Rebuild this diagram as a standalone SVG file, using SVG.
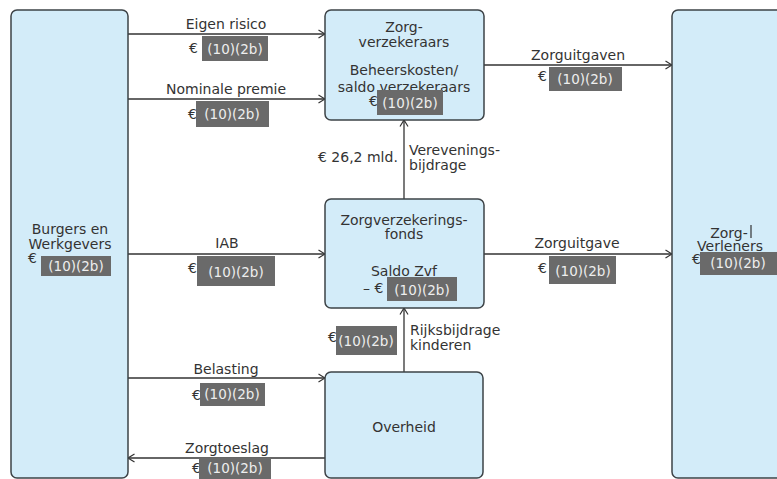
<svg xmlns="http://www.w3.org/2000/svg" width="777" height="479" viewBox="0 0 777 479">
<defs>
<marker id="arr" viewBox="0 0 8 10" refX="7.5" refY="5" markerWidth="8" markerHeight="10" markerUnits="userSpaceOnUse" orient="auto">
<path d="M1,1 L7.5,5 L1,9" fill="none" stroke="#333" stroke-width="1.2"/>
</marker>
</defs>
<style>
.box{fill:#d3ecf9;stroke:#3d4347;stroke-width:1.5}
.t{font-family:"DejaVu Sans","Liberation Sans",sans-serif;font-size:14px;fill:#333}
.m{text-anchor:middle}
.red{fill:#6a6a6a}
.w{font-family:"DejaVu Sans","Liberation Sans",sans-serif;font-size:13.5px;fill:#eeeeee;text-anchor:middle}
.ln{stroke:#333;stroke-width:1.3;fill:none;marker-end:url(#arr)}
</style>
<rect width="777" height="479" fill="#ffffff"/>

<g id="connectors">
<line class="ln" x1="128" y1="34" x2="325" y2="34"/>
<line class="ln" x1="128" y1="99" x2="325" y2="99"/>
<line class="ln" x1="484" y1="65" x2="672" y2="65"/>
<line class="ln" x1="128" y1="254" x2="325" y2="254"/>
<line class="ln" x1="484" y1="254" x2="672" y2="254"/>
<line class="ln" x1="128" y1="378" x2="325" y2="378"/>
<line class="ln" x1="325" y1="458" x2="128" y2="458"/>
<line class="ln" x1="404" y1="199" x2="404" y2="120"/>
<line class="ln" x1="404" y1="372" x2="404" y2="308"/>

<g id="lbl-eigen">
<text class="t m" x="226" y="29">Eigen risico</text>
<text class="t" x="189" y="53">€</text>
<rect class="red" x="202" y="36" width="66" height="25"/>
<text class="w" x="235" y="54">(10)(2b)</text>
</g>
<g id="lbl-nominaal">
<text class="t m" x="226" y="94">Nominale premie</text>
<text class="t" x="188" y="119">€</text>
<rect class="red" x="196" y="101" width="73" height="26"/>
<text class="w" x="232" y="119">(10)(2b)</text>
</g>
<g id="lbl-zorguitgaven">
<text class="t m" x="578" y="60">Zorguitgaven</text>
<text class="t" x="538" y="81">€</text>
<rect class="red" x="549" y="67" width="73" height="24"/>
<text class="w" x="585" y="84">(10)(2b)</text>
</g>
<g id="lbl-vereveningsbijdrage">
<text class="t" x="318" y="162">€ 26,2 mld.</text>
<text class="t" x="409" y="155">Verevenings-</text>
<text class="t" x="409" y="170">bijdrage</text>
</g>
<g id="lbl-iab">
<text class="t m" x="227" y="248">IAB</text>
<text class="t" x="188" y="273">€</text>
<rect class="red" x="197" y="256" width="78" height="30"/>
<text class="w" x="236" y="277">(10)(2b)</text>
</g>
<g id="lbl-zorguitgave">
<text class="t m" x="577" y="248">Zorguitgave</text>
<text class="t" x="538" y="273">€</text>
<rect class="red" x="549" y="256" width="67" height="28"/>
<text class="w" x="583" y="276">(10)(2b)</text>
</g>
<g id="lbl-rijksbijdrage">
<text class="t" x="410" y="335">Rijksbijdrage</text>
<text class="t" x="410" y="350">kinderen</text>
<text class="t" x="328" y="342">€</text>
<rect class="red" x="336" y="326" width="61" height="29"/>
<text class="w" x="366" y="346">(10)(2b)</text>
</g>
<g id="lbl-belasting">
<text class="t m" x="226" y="374">Belasting</text>
<text class="t" x="192" y="400">€</text>
<rect class="red" x="200" y="383" width="65" height="23"/>
<text class="w" x="232" y="399">(10)(2b)</text>
</g>
<g id="lbl-zorgtoeslag">
<text class="t m" x="227" y="453">Zorgtoeslag</text>
<text class="t" x="192" y="473">€</text>
<rect class="red" x="199" y="458" width="72" height="21"/>
<text class="w" x="235" y="473">(10)(2b)</text>
</g>
</g>

<g id="burgers">
<rect class="box" x="11" y="10" width="117" height="468" rx="6"/>
<text class="t m" x="70" y="234">Burgers en</text>
<text class="t m" x="70" y="249">Werkgevers</text>
<text class="t" x="28" y="263">€</text>
<rect class="red" x="41" y="256" width="70" height="20"/>
<text class="w" x="76" y="271">(10)(2b)</text>
</g>

<g id="zorgverzekeraars">
<rect class="box" x="325" y="10" width="159" height="110" rx="6"/>
<text class="t m" x="404" y="32">Zorg-</text>
<text class="t m" x="404" y="47">verzekeraars</text>
<text class="t m" x="404" y="75">Beheerskosten/</text>
<text class="t m" x="404" y="92">saldo verzekeraars</text>
<text class="t" x="369" y="106">€</text>
<rect class="red" x="377" y="90" width="66" height="25"/>
<text class="w" x="410" y="108">(10)(2b)</text>
</g>

<g id="zorgverzekeringsfonds">
<rect class="box" x="325" y="199" width="159" height="109" rx="6"/>
<text class="t m" x="404" y="225">Zorgverzekerings-</text>
<text class="t m" x="404" y="239">fonds</text>
<text class="t m" x="404" y="276">Saldo Zvf</text>
<text class="t" x="363" y="293">– €</text>
<rect class="red" x="387" y="277" width="70" height="24"/>
<text class="w" x="422" y="295">(10)(2b)</text>
</g>

<g id="overheid">
<rect class="box" x="325" y="372" width="158" height="106" rx="6"/>
<text class="t m" x="404" y="432">Overheid</text>
</g>

<g id="zorgverleners">
<rect class="box" x="672" y="10" width="130" height="468" rx="6"/>
<text class="t m" x="729" y="238">Zorg-</text>
<line x1="751" y1="225" x2="751" y2="238" stroke="#333" stroke-width="1.2"/>
<text class="t m" x="730" y="251">Verleners</text>
<text class="t" x="692" y="264">€</text>
<rect class="red" x="700" y="252" width="77" height="23"/>
<text class="w" x="738" y="268">(10)(2b)</text>
</g>
</svg>
